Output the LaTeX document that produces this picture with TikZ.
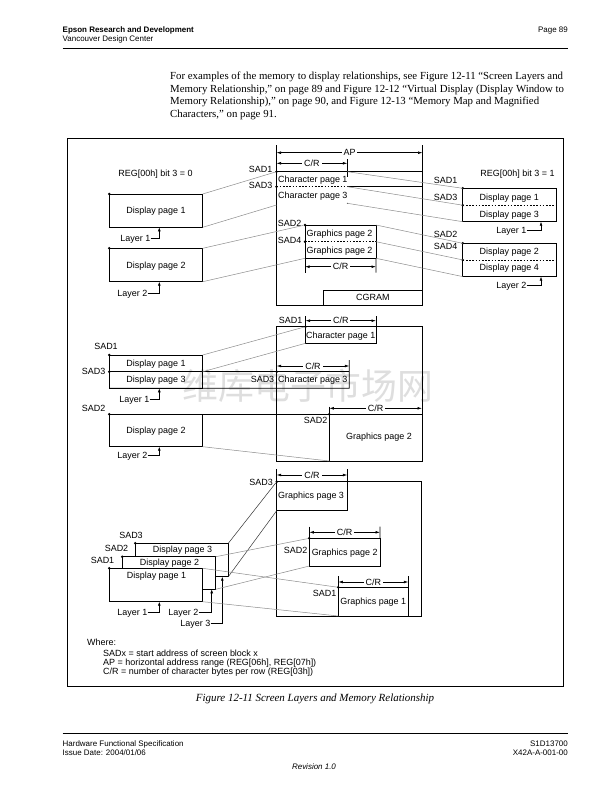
\documentclass[tikz,border=0pt]{standalone}
\usepackage{fontspec}
\setmainfont{Liberation Sans}
\newfontfamily\seriffont{Liberation Serif}
\newfontfamily\cjkfont{Noto Sans CJK SC}
\usetikzlibrary{arrows.meta}
\begin{document}
\begin{tikzpicture}[x=1bp,y=-1bp,
  lbl/.style={font=\fontsize{9}{10}\selectfont, inner sep=0pt, text height=6.5bp, text depth=0bp},
  hdr/.style={font=\fontsize{8}{9}\selectfont, inner sep=0pt, text height=5.8bp, text depth=0bp},
  para/.style={font=\seriffont\fontsize{10.85}{12.5}\selectfont, inner sep=0pt, text height=7.2bp, text depth=0bp, anchor=west},
  ln/.style={line width=0.8bp},
  conn/.style={line width=0.5bp, black!45},
  dconn/.style={line width=0.5bp, black!80},
  dashline/.style={line width=0.8bp, dash pattern=on 1.6bp off 1.6bp},
  dot/.style={circle, fill=black, inner sep=0pt, minimum size=2.8bp},
  dbox/.style={draw, line width=0.8bp, inner sep=0pt, anchor=north west, outer sep=0pt, font=\fontsize{9}{10}\selectfont, text height=6.5bp, text depth=0bp},
  dim/.style={line width=0.6bp, {Latex[length=4.5bp,width=2.8bp]}-{Latex[length=4.5bp,width=2.8bp]}},
  dimlbl/.style={lbl, fill=white, inner xsep=2bp},
  layarrow/.style={line width=0.6bp, -{Latex[length=4bp,width=2.8bp]}},
]
\useasboundingbox (0,0) rectangle (611,792);
\fill[white] (0,0) rectangle (611,792);

% watermark
\node[font=\cjkfont\fontsize{36}{36}\selectfont, text=black!13, inner sep=0pt] (wm) at (308,386) {维库电子市场网};

% header
\node[hdr, anchor=west, font=\bfseries\fontsize{8}{9}\selectfont] (h1) at (62.5,29.3) {Epson Research and Development};
\node[hdr, anchor=west] (h2) at (62.5,38.3) {Vancouver Design Center};
\node[hdr, anchor=east] (h3) at (568,29.3) {Page 89};
\coordinate (hl1) at (62.5,48.3);
\coordinate (hl2) at (568,48.3);
\draw[line width=0.9bp] (hl1) -- (hl2);

% paragraph
\node[para] (p1) at (170,76) {For examples of the memory to display relationships, see Figure 12-11 “Screen Layers and};
\node[para] (p2) at (170,88.5) {Memory Relationship,” on page 89 and Figure 12-12 “Virtual Display (Display Window to};
\node[para] (p3) at (170,101) {Memory Relationship),” on page 90, and Figure 12-13 “Memory Map and Magnified};
\node[para] (p4) at (170,113.5) {Characters,” on page 91.};

% frame
\node[draw, line width=1bp, minimum width=496.5bp, minimum height=548bp, anchor=north west, inner sep=0pt] (frame) at (66.5,138) {};

%%%%%%%%%%%%%%%% SECTION 1 %%%%%%%%%%%%%%%%
% memory block 1
\coordinate (m1tl) at (276.5,145);
\coordinate (m1tr) at (422.5,145);
\coordinate (m1bl) at (276.5,305);
\coordinate (m1br) at (422.5,305);
\draw[ln] (m1tl) -- (m1bl) -- (m1br) -- (m1tr);
\coordinate (ap1) at (276.5,152.7);
\coordinate (ap2) at (422.5,152.7);
\draw[dim] (ap1) -- node[dimlbl] (apl) {AP} (ap2);
\coordinate (cr1a) at (276.5,163.3);
\coordinate (cr1b) at (347.3,163.3);
\draw[dim] (cr1a) -- node[dimlbl] (cr1l) {C/R} (cr1b);
\coordinate (t1a) at (347.3,159);
\coordinate (t1b) at (347.3,177);
\draw[ln] (t1a) -- (t1b);
\coordinate (s1) at (276.5,171.7);
\coordinate (s1r) at (422.5,171.7);
\draw[ln] (s1) -- (s1r);
\coordinate (s3) at (276.5,186.7);
\coordinate (s3m) at (347.3,186.7);
\coordinate (s3r) at (422.5,186.7);
\draw[dashline] (s3) -- (s3m);
\draw[ln] (s3m) -- (s3r);
\node[dot] (ds1) at (s1) {};
\node[dot] (ds3) at (s3) {};
\node[lbl, anchor=east] (ls1) at (272.5,169.3) {SAD1};
\node[lbl, anchor=east] (ls3) at (272.5,185.2) {SAD3};
\node[lbl, anchor=west] (cp1) at (278,179.3) {Character page 1};
\node[lbl, anchor=west] (cp3) at (278,195) {Character page 3};
\coordinate (c3e) at (347.3,203.3);
\fill (c3e) circle (0.5bp);
\coordinate (c1e) at (276.5,205);
% graphics box
\node[dbox, minimum width=71bp, minimum height=33.3bp] (gb) at (305,225) {};
\coordinate (gm1) at (305,241.7);
\coordinate (gm2) at (376,241.7);
\draw[dashline] (gm1) -- (gm2);
\node[lbl, anchor=west] (gt1) at (306.5,233.5) {Graphics page 2};
\node[lbl, anchor=west] (gt2) at (306.5,250.3) {Graphics page 2};
\coordinate (gv1) at (305,272.7);
\coordinate (gv2) at (376,272.7);
\draw[ln] (gb.south west) -- (gv1);
\draw[ln] (gb.south east) -- (gv2);
\coordinate (cr2a) at (305,266.7);
\coordinate (cr2b) at (376,266.7);
\draw[dim] (cr2a) -- node[dimlbl] (cr2l) {C/R} (cr2b);
\node[dot] (ds2) at (gb.north west) {};
\node[dot] (ds4) at (gm1) {};
\node[lbl, anchor=east] (ls2) at (301.5,223.3) {SAD2};
\node[lbl, anchor=east] (ls4) at (301.5,240) {SAD4};
\node[dbox, minimum width=99.2bp, minimum height=15bp] (cg) at (323.3,290) {CGRAM};

% left displays
\node[lbl] (reg0) at (155.5,173) {REG[00h] bit 3 = 0};
\node[dbox, minimum width=93.4bp, minimum height=33.3bp] (A1) at (109.3,194) {Display page 1};
\node[dot] (A1d) at (A1.north west) {};
\node[lbl, anchor=east] (A1L) at (150.5,238) {Layer 1};
\coordinate (A1a) at (159.3,227.3);
\draw[layarrow] (A1L.east) -| (A1a);
\node[dbox, minimum width=93.4bp, minimum height=33.4bp] (A2) at (109.3,248.3) {Display page 2};
\node[dot] (A2d) at (A2.north west) {};
\node[lbl, anchor=east] (A2L) at (147.5,293.3) {Layer 2};
\coordinate (A2a) at (159.3,281.7);
\draw[layarrow] (A2L.east) -| (A2a);

% right displays
\node[lbl] (reg1) at (517.5,173.3) {REG[00h] bit 3 = 1};
\node[dbox, minimum width=93.3bp, minimum height=33.4bp] (R1) at (462.7,188.3) {};
\coordinate (r1m1) at (462.7,205.2);
\coordinate (r1m2) at (556,205.2);
\draw[dashline] (r1m1) -- (r1m2);
\node[lbl] (R1t1) at (509.3,197.3) {Display page 1};
\node[lbl] (R1t2) at (509.3,214) {Display page 3};
\node[dot] (R1d1) at (R1.north west) {};
\node[dot] (R1d2) at (r1m1) {};
\node[lbl, anchor=east] (rs1) at (457.5,180.7) {SAD1};
\node[lbl, anchor=east] (rs3) at (457.5,197.3) {SAD3};
\node[lbl, anchor=east] (R1L) at (526.5,230) {Layer 1};
\coordinate (R1a) at (541,221.7);
\draw[layarrow] (R1L.east) -| (R1a);
\node[dbox, minimum width=93.3bp, minimum height=33.3bp] (R2) at (462.7,243.3) {};
\coordinate (r2m1) at (462.7,259.9);
\coordinate (r2m2) at (556,259.9);
\draw[dashline] (r2m1) -- (r2m2);
\node[lbl] (R2t1) at (509.3,251) {Display page 2};
\node[lbl] (R2t2) at (509.3,267.5) {Display page 4};
\node[dot] (R2d1) at (R2.north west) {};
\node[dot] (R2d2) at (r2m1) {};
\node[lbl, anchor=east] (rs2) at (457.5,234) {SAD2};
\node[lbl, anchor=east] (rs4) at (457.5,246.5) {SAD4};
\node[lbl, anchor=east] (R2L) at (526.5,285) {Layer 2};
\coordinate (R2a) at (541,276.6);
\draw[layarrow] (R2L.east) -| (R2a);

% connectors section 1
\coordinate (c1a) at (347.3,171.7);
\coordinate (c1b) at (347.3,186.7);
\draw[conn] (A1.north east) -- (ds1);
\draw[conn] (A1.south east) -- (c1e);
\draw[conn] (A2.north east) -- (ds2);
\draw[conn] (A2.south east) -- (gb.south west);
\draw[conn] (c1a) -- (R1.north west);
\draw[conn] (c1b) -- (r1m1);
\draw[conn] (c3e) -- (R1.south west);
\draw[conn] (gb.north east) -- (R2.north west);
\draw[conn] (gm2) -- (r2m1);
\draw[conn] (gb.south east) -- (R2.south west);

%%%%%%%%%%%%%%%% SECTION 2 %%%%%%%%%%%%%%%%
\node[dbox, minimum width=145.3bp, minimum height=134.3bp] (M2) at (276.7,326.7) {};
% character page 1
\coordinate (q1a) at (305.5,316);
\coordinate (q1b) at (305.5,343.3);
\coordinate (q1c) at (376,343.3);
\coordinate (q1d) at (376,316);
\coordinate (q1s) at (305.5,326.7);
\draw[ln] (q1a) -- (q1b) -- (q1c) -- (q1d);
\coordinate (cr3a) at (305.5,320.7);
\coordinate (cr3b) at (376,320.7);
\draw[dim] (cr3a) -- node[dimlbl] (cr3l) {C/R} (cr3b);
\node[lbl] (q1t) at (340.7,334.8) {Character page 1};
\node[dot] (q1dot) at (q1s) {};
\node[lbl, anchor=east] (qs1) at (302.5,320.7) {SAD1};
% display 1/3
\node[dbox, minimum width=93.4bp, minimum height=33.3bp] (B1) at (109.3,355) {};
\coordinate (b1m) at (109.3,371.7);
\coordinate (q3m) at (349.3,371.7);
\coordinate (q3b) at (349.3,388.3);
\coordinate (q3t) at (349.3,360);
\draw[ln] (b1m) -- (q3m);
\draw[ln] (B1.south west) -- (q3b) -- (q3t);
\coordinate (cr4a) at (276.7,366);
\coordinate (cr4b) at (349.3,366);
\draw[dim] (cr4a) -- node[dimlbl] (cr4l) {C/R} (cr4b);
\node[lbl] (B1t1) at (156,363) {Display page 1};
\node[lbl] (B1t2) at (156,379.5) {Display page 3};
\node[lbl, anchor=west] (q3t2) at (278,379.5) {Character page 3};
\coordinate (q3s) at (276.7,371.7);
\node[dot] (q3dot) at (q3s) {};
\node[lbl] (qs3) at (262.5,379.5) {SAD3};
\node[dot] (B1d1) at (B1.north west) {};
\node[dot] (B1d2) at (b1m) {};
\node[lbl] (bs1) at (106,346.7) {SAD1};
\node[lbl, anchor=east] (bs3) at (105.5,371.7) {SAD3};
\node[lbl, anchor=east] (B1L) at (149.5,399) {Layer 1};
\coordinate (B1a) at (159.3,388.3);
\draw[layarrow] (B1L.east) -| (B1a);
% display 2 + graphics page 2
\node[dbox, minimum width=93.4bp, minimum height=32.4bp] (B2) at (109.3,414.3) {Display page 2};
\coordinate (g2r) at (422,414.3);
\draw[ln] (B2.north east) -- (g2r);
\coordinate (g2t) at (329.3,406.7);
\coordinate (g2b) at (329.3,461);
\coordinate (g2s) at (329.3,414.3);
\draw[ln] (g2t) -- (g2b);
\coordinate (cr5a) at (329.3,408.3);
\coordinate (cr5b) at (422,408.3);
\draw[dim] (cr5a) -- node[dimlbl] (cr5l) {C/R} (cr5b);
\node[dot] (g2dot) at (g2s) {};
\node[lbl, anchor=east] (gs2) at (327.5,420.3) {SAD2};
\node[lbl] (g2txt) at (379,436.7) {Graphics page 2};
\node[dot] (B2d) at (B2.north west) {};
\node[lbl, anchor=east] (bs2) at (105.5,408.3) {SAD2};
\node[lbl, anchor=east] (B2L) at (147.5,455) {Layer 2};
\coordinate (B2a) at (159.3,446.7);
\draw[layarrow] (B2L.east) -| (B2a);
% connectors section 2
\draw[conn] (B1.north east) -- (q1dot);
\draw[conn] (B1.east |- b1m) -- (q1b);
\draw[conn] (B2.south east) -- (g2b);

%%%%%%%%%%%%%%%% SECTION 3 %%%%%%%%%%%%%%%%
\node[dbox, minimum width=145bp, minimum height=134.3bp] (M3) at (276.7,481.7) {};
% graphics page 3
\coordinate (h3a) at (276.7,469);
\coordinate (h3s) at (276.7,481.7);
\coordinate (h3b) at (276.7,510.7);
\coordinate (h3c) at (347.3,510.7);
\coordinate (h3d) at (347.3,469);
\draw[ln] (h3a) -- (h3s);
\draw[ln] (h3b) -- (h3c) -- (h3d);
\coordinate (cr6a) at (276.7,475);
\coordinate (cr6b) at (347.3,475);
\draw[dim] (cr6a) -- node[dimlbl] (cr6l) {C/R} (cr6b);
\node[lbl, anchor=west] (h3txt) at (278,495) {Graphics page 3};
\node[dot] (h3dot) at (h3s) {};
\node[lbl, anchor=east] (hs3) at (273,482.7) {SAD3};
% graphics page 2
\node[dbox, minimum width=70.7bp, minimum height=27.7bp] (H2) at (309.3,538.3) {Graphics page 2};
\coordinate (h2a) at (309.3,526.7);
\coordinate (h2b) at (380,526.7);
\draw[ln] (h2a) -- (H2.north west);
\draw[ln] (h2b) -- (H2.north east);
\coordinate (cr7a) at (309.3,532.3);
\coordinate (cr7b) at (380,532.3);
\draw[dim] (cr7a) -- node[dimlbl] (cr7l) {C/R} (cr7b);
\node[dot] (h2dot) at (H2.north west) {};
\node[lbl, anchor=east] (hs2) at (307.5,550) {SAD2};
% graphics page 1
\coordinate (h1a) at (338.3,576);
\coordinate (h1s) at (338.3,587.3);
\coordinate (h1b) at (338.3,616);
\coordinate (h1c) at (408.3,576);
\coordinate (h1t) at (408.3,587.3);
\coordinate (h1d) at (408.3,616);
\draw[ln] (h1a) -- (h1b);
\draw[ln] (h1c) -- (h1d);
\draw[ln] (h1s) -- (h1t);
\coordinate (cr8a) at (338.3,582);
\coordinate (cr8b) at (408.3,582);
\draw[dim] (cr8a) -- node[dimlbl] (cr8l) {C/R} (cr8b);
\node[lbl] (h1txt) at (373.3,601) {Graphics page 1};
\node[dot] (h1dot) at (h1s) {};
\node[lbl, anchor=east] (hs1) at (336.5,593) {SAD1};
% display stack
\node[dbox, fill=white, minimum width=93bp, minimum height=33.4bp] (E3) at (135.3,543.3) {};
\node[dbox, fill=white, minimum width=93.4bp, minimum height=32.6bp] (E2) at (122.3,556.7) {};
\node[dbox, fill=white, minimum width=93.4bp, minimum height=33.4bp] (E1) at (109.3,568.3) {};
\node[lbl] (E3t) at (182.5,549.6) {Display page 3};
\node[lbl] (E2t) at (169.5,562.3) {Display page 2};
\node[lbl] (E1t) at (156.5,575) {Display page 1};
\node[dot] (E3d) at (E3.north west) {};
\node[dot] (E2d) at (E2.north west) {};
\node[dot] (E1d) at (E1.north west) {};
\node[lbl] (es3) at (131,535) {SAD3};
\node[lbl] (es2) at (116.5,548.3) {SAD2};
\node[lbl] (es1) at (102.5,560) {SAD1};
\node[lbl, anchor=east] (E1L) at (147.5,612.7) {Layer 1};
\coordinate (E1a) at (159.3,601.7);
\draw[layarrow] (E1L.east) -| (E1a);
\node[lbl, anchor=east] (E2L) at (198.5,612.7) {Layer 2};
\coordinate (E2a) at (211.7,589.3);
\draw[layarrow] (E2L.east) -| (E2a);
\node[lbl, anchor=east] (E3L) at (210.5,623.3) {Layer 3};
\coordinate (E3a) at (222.3,576.7);
\draw[layarrow] (E3L.east) -| (E3a);
% connectors section 3
\draw[dconn] (E3.north east) -- (h3dot);
\draw[dconn] (E3.south east) -- (h3b);
\draw[conn] (E2.north east) -- (h2dot);
\draw[conn] (E2.south east) -- (H2.south west);
\draw[conn] (E1.north east) -- (h1dot);
\draw[conn] (E1.south east) -- (h1b);

% legend
\node[lbl, anchor=west] (w0) at (87,642.7) {Where:};
\node[lbl, anchor=west] (w1) at (103,653.3) {SADx = start address of screen block x};
\node[lbl, anchor=west] (w2) at (103,662.5) {AP = horizontal address range (REG[06h], REG[07h])};
\node[lbl, anchor=west] (w3) at (103,671.7) {C/R = number of character bytes per row (REG[03h])};

% caption
\node[font=\seriffont\itshape\fontsize{11}{12}\selectfont, inner sep=0pt, text height=7.3bp, text depth=0bp] (cap) at (315,697.7) {Figure 12-11 Screen Layers and Memory Relationship};

% footer
\coordinate (fl1) at (62.5,733.3);
\coordinate (fl2) at (568,733.3);
\draw[line width=0.9bp] (fl1) -- (fl2);
\node[hdr, anchor=west] (f1) at (62.5,743.3) {Hardware Functional Specification};
\node[hdr, anchor=west] (f2) at (62.5,752.7) {Issue Date: 2004/01/06};
\node[hdr, anchor=east] (f3) at (568,743.3) {S1D13700};
\node[hdr, anchor=east] (f4) at (568,752.7) {X42A-A-001-00};
\node[hdr, font=\itshape\fontsize{8}{9}\selectfont] (f5) at (314,767) {Revision 1.0};
\end{tikzpicture}
\end{document}
